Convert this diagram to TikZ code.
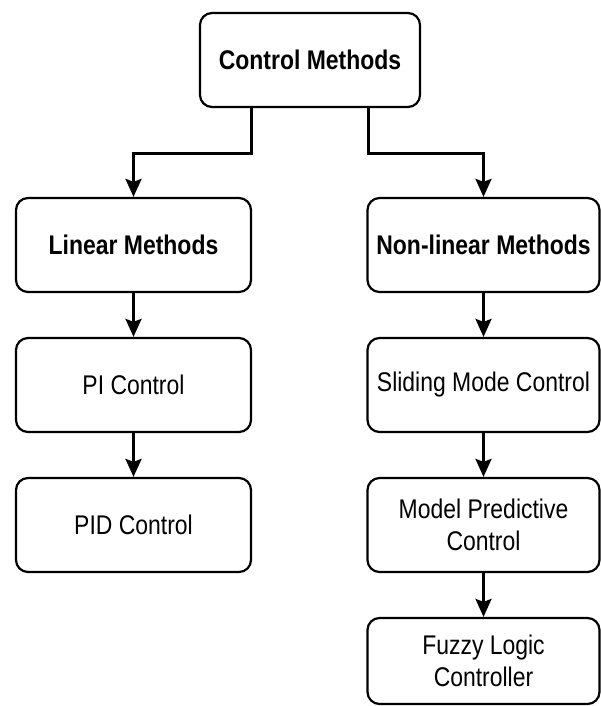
\documentclass[tikz,border=0pt]{standalone}
\usepackage{fontspec}
\setmainfont{Liberation Sans}[FakeStretch=0.85]
\usetikzlibrary{arrows.meta,calc}
\begin{document}
\begin{tikzpicture}[x=1pt,y=-1pt,
  box/.style={draw=black,line width=2.2pt,rounded corners=12pt,fill=white,
    inner sep=0pt,minimum height=94pt,align=center,
    font=\fontsize{27}{32}\selectfont},
  lbox/.style={box,minimum width=235pt},
  rbox/.style={box,minimum width=232pt},
  arr/.style={line width=3pt,-{Stealth[length=18pt,width=16pt,inset=3pt]}}]
\useasboundingbox (0,0) rectangle (601,706);
\node[box,minimum width=220pt,font=\fontsize{27}{32}\selectfont\bfseries] (top) at (310,60) {Control Methods};
\node[lbox,font=\fontsize{27}{32}\selectfont\bfseries] (lin) at (133.5,245) {Linear Methods};
\node[rbox,font=\fontsize{27}{32}\selectfont\bfseries] (non) at (483.5,245) {Non-linear Methods};
\node[lbox] (pi) at (133.5,385) {PI Control};
\node[lbox] (pid) at (133.5,525) {PID Control};
\node[rbox] (smc) at (483.5,385) {Sliding Mode Control};
\node[rbox] (mpc) at (483.5,525) {Model Predictive\\Control};
\node[rbox,minimum height=86pt] (flc) at (483.5,661) {Fuzzy Logic\\Controller};
\coordinate (jl) at (251,153);
\coordinate (jr) at (368,153);
\draw[arr] (top.south -| jl) -- (jl) -| (lin.north);
\draw[arr] (top.south -| jr) -- (jr) -| (non.north);
\draw[arr] (lin) -- (pi);
\draw[arr] (pi) -- (pid);
\draw[arr] (non) -- (smc);
\draw[arr] (smc) -- (mpc);
\draw[arr] (mpc) -- (flc);
\end{tikzpicture}
\end{document}
